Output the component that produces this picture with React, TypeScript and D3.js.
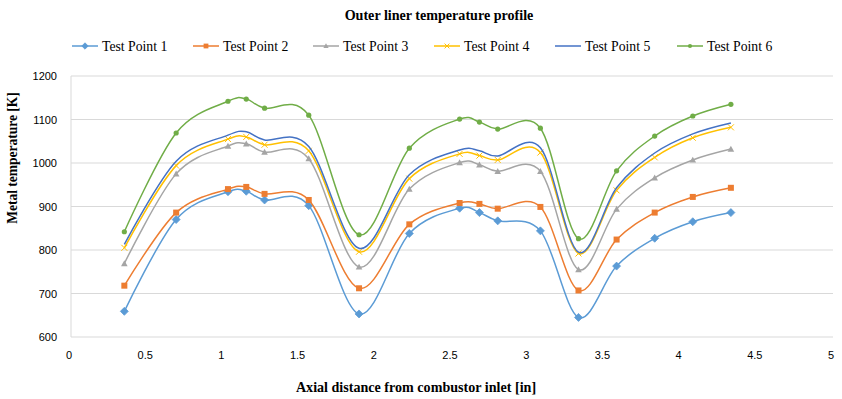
import React from "react";
import * as d3 from "d3";

const xValues = [0.35, 0.69, 1.03, 1.15, 1.27, 1.56, 1.89, 2.22, 2.55, 2.68, 2.8, 3.08, 3.33, 3.58, 3.83, 4.08, 4.33];

const tp1 = [659, 870, 934, 935, 915, 902, 653, 838, 896, 886, 867, 844, 645, 763, 827, 865, 886];
const tp2 = [718, 886, 940, 945, 929, 915, 712, 859, 908, 906, 895, 899, 707, 824, 886, 922, 943];
const tp3 = [769, 975, 1039, 1044, 1025, 1010, 761, 940, 1001, 996, 981, 981, 755, 894, 966, 1007, 1032];
const tp4 = [805, 994, 1055, 1060, 1042, 1028, 796, 964, 1021, 1017, 1007, 1024, 792, 937, 1013, 1058, 1082];
const tp5 = [813, 1004, 1064, 1072, 1053, 1038, 804, 973, 1030, 1028, 1016, 1035, 795, 943, 1023, 1067, 1092];
const tp6 = [842, 1069, 1142, 1147, 1126, 1110, 835, 1034, 1101, 1094, 1078, 1080, 826, 982, 1062, 1108, 1135];

const seriesNames = ["Test Point 1", "Test Point 2", "Test Point 3", "Test Point 4", "Test Point 5", "Test Point 6"];
const seriesData = [tp1, tp2, tp3, tp4, tp5, tp6];
const colors = ["#5B9BD5", "#ED7D31", "#A5A5A5", "#FFC000", "#4472C4", "#70AD47"];
const markers = ["diamond", "square", "triangle", "x", "none", "circle"];

const yTicks = [600, 700, 800, 900, 1000, 1100, 1200];
const xTicks = [0, 0.5, 1, 1.5, 2, 2.5, 3, 3.5, 4, 4.5, 5];

const title = "Outer liner temperature profile";
const xLabel = "Axial distance from combustor inlet [in]";
const yLabel = "Metal temperature [K]";

const W = 842;
const H = 399;
const plot = { left: 71, right: 833, top: 76, bottom: 337 };

function Marker({ type, x, y, color, s = 1 }: { type: string; x: number; y: number; color: string; s?: number }) {
  if (type === "diamond") {
    const r = 4 * s;
    return <path d={`M${x},${y - r}L${x + r},${y}L${x},${y + r}L${x - r},${y}Z`} fill={color} stroke={color} strokeWidth={0.75} />;
  }
  if (type === "square") {
    const r = 3 * s;
    return <rect x={x - r} y={y - r} width={2 * r} height={2 * r} fill={color} />;
  }
  if (type === "triangle") {
    const r = 3.3 * s;
    return <path d={`M${x},${y - r}L${x + r},${y + r * 0.8}L${x - r},${y + r * 0.8}Z`} fill={color} />;
  }
  if (type === "x") {
    const r = 3 * s;
    return (
      <path d={`M${x - r},${y - r}L${x + r},${y + r}M${x - r},${y + r}L${x + r},${y - r}`} stroke={color} strokeWidth={1} fill="none" />
    );
  }
  if (type === "circle") {
    return <circle cx={x} cy={y} r={2.6 * s} fill={color} />;
  }
  return null;
}

const serif = "'Liberation Serif', 'Times New Roman', serif";

export default function App() {
  const x = d3.scaleLinear().domain([0, 5]).range([plot.left, plot.right]);
  const y = d3.scaleLinear().domain([600, 1200]).range([plot.bottom, plot.top]);
  const line = d3
    .line<number>()
    .x((_, i) => x(xValues[i]))
    .y((d) => y(d))
    .curve(d3.curveCardinal.tension(0));

  const legendX = [72, 193, 313, 434, 555, 677];

  return (
    <svg width={W} height={H} style={{ position: "absolute", left: 0, top: 0, background: "#fff" }}>
      <rect x={0} y={0} width={W} height={H} fill="#fff" />
      <text
        transform="translate(439,20) scale(0.94,1)"
        textAnchor="middle"
        fontFamily={serif}
        fontWeight="bold"
        fontSize={15}
        fill="#000"
      >
        {title}
      </text>
      {seriesNames.map((name, i) => (
        <g key={name}>
          <line x1={legendX[i]} x2={legendX[i] + 26} y1={46} y2={46} stroke={colors[i]} strokeWidth={1.5} />
          <Marker type={markers[i]} x={legendX[i] + 13} y={46} color={colors[i]} s={0.8} />
          <text
            transform={`translate(${legendX[i] + 30},51) scale(0.915,1)`}
            fontFamily={serif}
            fontSize={15}
            fill="#000"
          >
            {name}
          </text>
        </g>
      ))}
      {yTicks.map((t) => (
        <g key={t}>
          <line x1={plot.left} x2={plot.right} y1={y(t)} y2={y(t)} stroke="#d9d9d9" strokeWidth={1} />
          <text x={57} y={y(t) + 4} textAnchor="end" fontFamily="'Liberation Sans', sans-serif" fontSize={11} fill="#000">
            {t}
          </text>
        </g>
      ))}
      <line x1={plot.left} x2={plot.left} y1={plot.top} y2={plot.bottom} stroke="#d9d9d9" strokeWidth={1} />
      {xTicks.map((t) => (
        <text key={t} x={x(t) - 2} y={359} textAnchor="middle" fontFamily="'Liberation Sans', sans-serif" fontSize={11} fill="#000">
          {t}
        </text>
      ))}
      {seriesData.map((vals, i) => (
        <g key={i}>
          <path d={line(vals) || ""} fill="none" stroke={colors[i]} strokeWidth={1.5} />
          {vals.map((v, j) => (
            <Marker key={j} type={markers[i]} x={x(xValues[j])} y={y(v)} color={colors[i]} />
          ))}
        </g>
      ))}
      <text
        transform="translate(416,392) scale(0.94,1)"
        textAnchor="middle"
        fontFamily={serif}
        fontWeight="bold"
        fontSize={15}
        fill="#000"
      >
        {xLabel}
      </text>
      <text
        transform="translate(17,158) rotate(-90) scale(0.9,1)"
        textAnchor="middle"
        fontFamily={serif}
        fontWeight="bold"
        fontSize={15}
        fill="#000"
      >
        {yLabel}
      </text>
    </svg>
  );
}
